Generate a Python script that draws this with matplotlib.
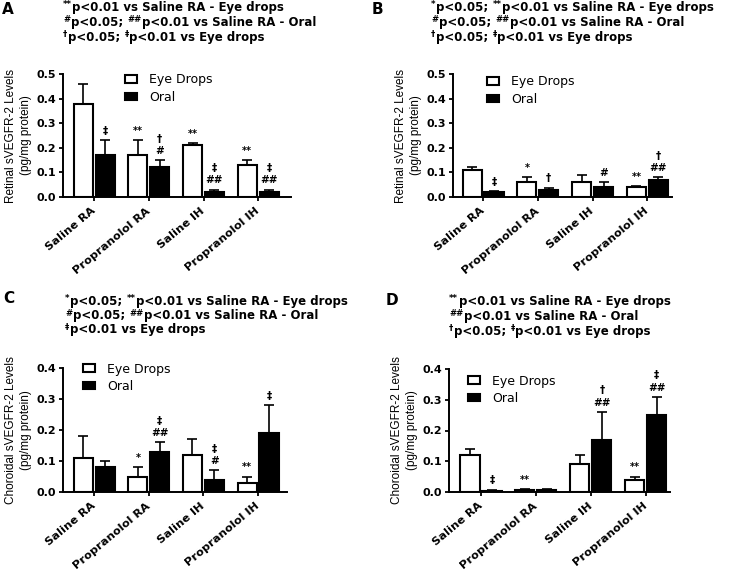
import re
import matplotlib
matplotlib.use("Agg")
import matplotlib.pyplot as plt
import numpy as np
from matplotlib.patches import Patch

plt.rcParams['font.family'] = ['DejaVu Sans']
plt.rcParams['font.weight'] = 'bold'

groups = ['Saline RA', 'Propranolol RA', 'Saline IH', 'Propranolol IH']

# panel A - retinal, 0-0.5
a_eye = [0.38, 0.17, 0.21, 0.13]
a_eye_top = [0.46, 0.23, 0.22, 0.15]
a_oral = [0.17, 0.12, 0.02, 0.02]
a_oral_top = [0.23, 0.15, 0.03, 0.03]
a_eye_sig = ['', '**', '**', '**']
a_oral_sig = ['‡', '†\n#', '‡\n##', '‡\n##']
a_head = ['^{**}p<0.01 vs Saline RA - Eye drops',
          '^{#}p<0.05; ^{##}p<0.01 vs Saline RA - Oral',
          '^{†}p<0.05; ^{‡}p<0.01 vs Eye drops']

# panel B - retinal
b_eye = [0.11, 0.06, 0.06, 0.04]
b_eye_top = [0.12, 0.08, 0.09, 0.045]
b_oral = [0.02, 0.03, 0.04, 0.07]
b_oral_top = [0.025, 0.038, 0.06, 0.08]
b_eye_sig = ['', '*', '', '**']
b_oral_sig = ['‡', '†', '#', '†\n##']
b_head = ['^{*}p<0.05; ^{**}p<0.01 vs Saline RA - Eye drops',
          '^{#}p<0.05; ^{##}p<0.01 vs Saline RA - Oral',
          '^{†}p<0.05; ^{‡}p<0.01 vs Eye drops']

# panel C - choroidal, 0-0.4
c_eye = [0.11, 0.05, 0.12, 0.03]
c_eye_top = [0.18, 0.08, 0.17, 0.05]
c_oral = [0.08, 0.13, 0.04, 0.19]
c_oral_top = [0.10, 0.16, 0.07, 0.28]
c_eye_sig = ['', '*', '', '**']
c_oral_sig = ['', '‡\n##', '‡\n#', '‡']
c_head = ['^{*}p<0.05; ^{**}p<0.01 vs Saline RA - Eye drops',
          '^{#}p<0.05; ^{##}p<0.01 vs Saline RA - Oral',
          '^{‡}p<0.01 vs Eye drops']

# panel D - choroidal
d_eye = [0.12, 0.005, 0.09, 0.04]
d_eye_top = [0.14, 0.01, 0.12, 0.05]
d_oral = [0.003, 0.005, 0.17, 0.25]
d_oral_top = [0.008, 0.01, 0.26, 0.31]
d_eye_sig = ['', '**', '', '**']
d_oral_sig = ['‡', '', '†\n##', '‡\n##']
d_head = ['^{**}p<0.01 vs Saline RA - Eye drops',
          '^{##}p<0.01 vs Saline RA - Oral',
          '^{†}p<0.05; ^{‡}p<0.01 vs Eye drops']

W, H = 740, 569
fig = plt.figure(figsize=(W / 100, H / 100), dpi=100)
renderer = fig.canvas.get_renderer()


def header_line(x_px, y_px, line, size=8.5):
    # split into superscript / normal pieces and lay them out left to right
    x = x_px
    for sup, txt in re.findall(r'\^\{([^}]*)\}|([^^]+)', line):
        if sup:
            t = fig.text(x / W, 1 - (y_px - 3.8) / H, sup, fontsize=size * 0.72,
                         ha='left', va='baseline')
        else:
            t = fig.text(x / W, 1 - y_px / H, txt.replace(' ', '\u00a0'), fontsize=size,
                         ha='left', va='baseline')
        x = t.get_window_extent(renderer).x1 + 0.5


def panel(letter, rect, xlim, ylim, ylabel, head, head_x, head_y, letter_xy, leg_xy,
          eye, eye_top, oral, oral_top, eye_sig, oral_sig):
    l, r, b, t = rect
    ax = fig.add_axes([l / W, 1 - b / H, (r - l) / W, (b - t) / H])
    x = np.arange(len(groups))
    w, d = 0.35, 0.2
    ax.bar(x - d, eye, w, color='white', edgecolor='black', linewidth=1.5, zorder=2)
    ax.bar(x + d, oral, w, color='black', edgecolor='black', linewidth=1.5, zorder=2)
    eerr = np.array(eye_top) - np.array(eye)
    oerr = np.array(oral_top) - np.array(oral)
    ax.errorbar(x - d, eye, yerr=[np.zeros(4), eerr], fmt='none', ecolor='black',
                elinewidth=1.2, capsize=3.6, capthick=1.2, zorder=1)
    ax.errorbar(x + d, oral, yerr=[np.zeros(4), oerr], fmt='none', ecolor='black',
                elinewidth=1.2, capsize=3.6, capthick=1.2, zorder=1)
    for i in range(4):
        if eye_sig[i]:
            ax.annotate(eye_sig[i], (x[i] - d, eye_top[i]), xytext=(0, 3),
                        textcoords='offset points', ha='center', va='bottom',
                        fontsize=7, linespacing=1.3)
        if oral_sig[i]:
            ax.annotate(oral_sig[i], (x[i] + d, oral_top[i]), xytext=(0, 3),
                        textcoords='offset points', ha='center', va='bottom',
                        fontsize=7.5, linespacing=1.3)
    ax.set_xlim(*xlim)
    ax.set_ylim(*ylim)
    ax.set_yticks(np.arange(0, ylim[1] + 0.001, 0.1))
    ax.yaxis.set_major_formatter(plt.FormatStrFormatter('%.1f'))
    ax.set_xticks(x)
    ax.set_xticklabels(groups, rotation=40, ha='right', va='center', rotation_mode='anchor',
                       fontsize=8.2)
    ax.tick_params(axis='y', labelsize=8, width=1.3, length=3, pad=2)
    ax.tick_params(axis='x', width=1.3, length=3, pad=6)
    for s in ['top', 'right']:
        ax.spines[s].set_visible(False)
    for s in ['left', 'bottom']:
        ax.spines[s].set_linewidth(1.4)
    ax.set_ylabel(ylabel, fontsize=8.5, labelpad=3, family='Liberation Sans',
                  linespacing=1.4)
    handles = [Patch(facecolor='white', edgecolor='black', linewidth=1.5),
               Patch(facecolor='black', edgecolor='black', linewidth=1.5)]
    leg = fig.legend(handles, ['Eye Drops', 'Oral'], loc='upper left',
                     bbox_to_anchor=(leg_xy[0] / W, 1 - (leg_xy[1] - 7.5) / H),
                     frameon=False, fontsize=9, handlelength=0.95, handleheight=0.6,
                     handletextpad=1.0, labelspacing=0.35, borderpad=0, borderaxespad=0)
    for tx in leg.get_texts():
        tx.set_fontweight('normal')
    fig.text(letter_xy[0] / W, 1 - letter_xy[1] / H, letter, fontsize=11, ha='left',
             va='top')
    for k, line in enumerate(head):
        header_line(head_x, head_y[k], line)
    return ax


ret = 'Retinal sVEGFR-2 Levels\n(pg/mg protein)'
cho = 'Choroidal sVEGFR-2 Levels\n(pg/mg protein)'

panel('A', (63, 291, 197, 74), (-0.57, 3.6), (0, 0.5), ret, a_head, 63, [11, 25.8, 40.5],
      (2, 2), (125, 81),
      a_eye, a_eye_top, a_oral, a_oral_top, a_eye_sig, a_oral_sig)
panel('B', (453, 672, 197, 74), (-0.55, 3.45), (0, 0.5), ret, b_head, 431, [11, 25.8, 40.5],
      (372, 2), (487, 83),
      b_eye, b_eye_top, b_oral, b_oral_top, b_eye_sig, b_oral_sig)
panel('C', (63, 287, 492, 368), (-0.57, 3.53), (0, 0.4), cho, c_head, 65, [305, 319.5, 333.5],
      (3, 291), (83, 370),
      c_eye, c_eye_top, c_oral, c_oral_top, c_eye_sig, c_oral_sig)
panel('D', (449, 670, 492, 369), (-0.58, 3.44), (0, 0.4), cho, d_head, 449, [305, 320, 335],
      (386, 293), (468, 382),
      d_eye, d_eye_top, d_oral, d_oral_top, d_eye_sig, d_oral_sig)

fig.savefig('out.png', dpi=100)
